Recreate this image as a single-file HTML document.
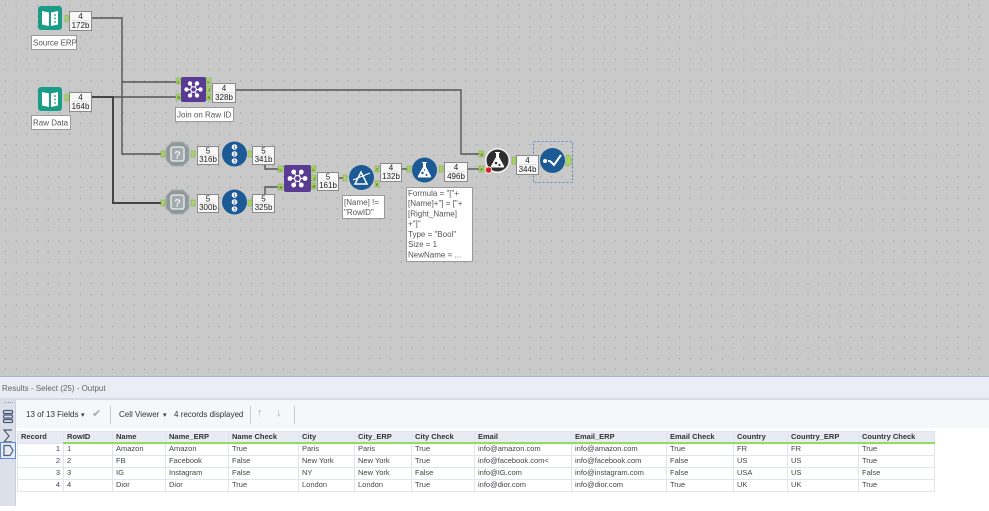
<!DOCTYPE html>
<html><head><meta charset="utf-8">
<style>
*{margin:0;padding:0;box-sizing:border-box}
body{width:989px;height:506px;overflow:hidden;background:#fff;font-family:"Liberation Sans",sans-serif;position:relative}
#canvas{position:absolute;left:0;top:0;width:989px;height:376px;background:#c9c9c9}
.abs{position:absolute}
#topline{left:0;top:376px;width:989px;height:1px;background:#9fb6d8}
#hdr{left:0;top:377px;width:989px;height:21px;background:#eaedf4;font-size:8px;color:#666;padding:7px 0 0 2px}
#hdrline{left:0;top:398px;width:989px;height:2px;background:#d6dbe6}
#side{left:0;top:400px;width:16px;height:106px;background:#dce0e9;border-right:1px solid #c9cfdc}
#tool{left:16px;top:400px;width:973px;height:28px;background:#f6f7fb}
.tt{position:absolute;top:410px;font-size:8px;color:#333;white-space:nowrap}
.sep{position:absolute;top:406px;width:1px;height:18px;background:#c8ccd6}
table{position:absolute;left:17px;top:431px;border-collapse:collapse;table-layout:fixed;font-size:7.5px;color:#444}
td,th{height:12px;border:1px solid #dfe4ee;padding:0 3px;white-space:nowrap;overflow:hidden;text-align:left;line-height:10px}
th{background:#e8ebf3;color:#333;font-weight:bold;border-bottom:2px solid #8fdf5c;height:11px}
th.r{border-bottom:1px solid #dfe4ee}
td.n{text-align:right}
</style></head><body>
<div id="canvas">
<svg width="989" height="376" xmlns="http://www.w3.org/2000/svg" font-family="Liberation Sans, sans-serif">
<defs>
<pattern id="g" x="0" y="0" width="10.7" height="10.7" patternUnits="userSpaceOnUse"><rect x="5" y="5" width="1" height="1" fill="#8e8e8e"/></pattern>
</defs>
<rect width="989" height="376" fill="url(#g)"/>
<!-- connectors -->
<g fill="none" stroke="#555" stroke-width="1.4">
<path d="M92,18 H122 V82 H176"/>
<path d="M122,82 V154 H161"/>
<path d="M92,97 H176"/>
<path d="M235,90 H461 V154 H479"/>
<path d="M265,164 V169 H278"/>
<path d="M265,194 V187 H278"/>
<path d="M339,178 H343"/>
<path d="M402,169 H407"/>
<path d="M468,169 H479"/>
</g>
<path d="M92,97 H113 V203 H161" fill="none" stroke="#444" stroke-width="2"/>
<!-- anchors -->
<g fill="#a9d36a" stroke="#7ea84a" stroke-width="0.5">
<path d="M65,15 h2 a2,3.5 0 0 1 0,7 h-2z"/>
<path d="M65,94 h2 a2,3.5 0 0 1 0,7 h-2z"/>
<rect x="176" y="78" width="5" height="6"/><rect x="176" y="94" width="5" height="6"/>
<rect x="206" y="78" width="5" height="6"/><rect x="206" y="86" width="5" height="6"/><rect x="206" y="94" width="5" height="6"/>
<rect x="161" y="151" width="4" height="6"/><rect x="191" y="151" width="4" height="6"/><rect x="248" y="151" width="4" height="6"/>
<rect x="161" y="200" width="4" height="6"/><rect x="191" y="200" width="4" height="6"/><rect x="248" y="200" width="4" height="6"/>
<rect x="278" y="166" width="5" height="6"/><rect x="278" y="184" width="5" height="6"/>
<rect x="311" y="166" width="5" height="6"/><rect x="311" y="175" width="5" height="6"/><rect x="311" y="183" width="5" height="6"/>
<rect x="343" y="175" width="4" height="6"/>
<rect x="375" y="166" width="4" height="6"/><rect x="375" y="181" width="4" height="6"/>
<rect x="407" y="166" width="4" height="6"/><rect x="439" y="166" width="4" height="6"/>
<rect x="479" y="151" width="5" height="6"/><rect x="479" y="166" width="5" height="6"/>
<rect x="512" y="157" width="4" height="7"/>
<path d="M566,155 h2 a4,5.5 0 0 1 0,11 h-2z"/>
</g>
<g font-size="3.5" fill="#3a5a1a" font-weight="bold">
<text x="177.5" y="83">L</text><text x="177.5" y="99">R</text>
<text x="207.5" y="83">L</text><text x="208" y="91">J</text><text x="207.5" y="99">R</text>
<text x="279.5" y="171">L</text><text x="279.5" y="189">R</text>
<text x="312.5" y="171">L</text><text x="313" y="180">J</text><text x="312.5" y="188">R</text>
<text x="376" y="171">T</text><text x="376" y="186">F</text>
<text x="480.5" y="156">D</text><text x="480.5" y="171">F</text>
</g>
<!-- input tools -->
<g>
<rect x="38" y="6" width="24" height="24" rx="3" fill="#1a9c89"/>
<path d="M42,11 L49,12.5 L49,26 L42,24.5Z M51,12.5 L58,11 L58,24.5 L51,26Z" fill="#fff"/>
<g fill="#1a9c89"><circle cx="55" cy="15" r="0.9"/><circle cx="55" cy="18.5" r="0.9"/><circle cx="55" cy="22" r="0.9"/></g>
<rect x="38" y="87" width="24" height="24" rx="3" fill="#1a9c89"/>
<path d="M42,92 L49,93.5 L49,107 L42,105.5Z M51,93.5 L58,92 L58,105.5 L51,107Z" fill="#fff"/>
<g fill="#1a9c89"><circle cx="55" cy="96" r="0.9"/><circle cx="55" cy="99.5" r="0.9"/><circle cx="55" cy="103" r="0.9"/></g>
</g>
<!-- join tools -->
<g>
<rect x="181" y="77" width="25" height="25" rx="2" fill="#5a3b94"/>
<g stroke="#fff" stroke-width="1"><path d="M193.5,89.5 l7,0 M193.5,89.5 l-7,0 M193.5,89.5 l3.5,6 M193.5,89.5 l-3.5,6 M193.5,89.5 l3.5,-6 M193.5,89.5 l-3.5,-6"/></g>
<g fill="#fff"><circle cx="200.5" cy="89.5" r="2.2"/><circle cx="186.5" cy="89.5" r="2.2"/><circle cx="197" cy="95.5" r="2.2"/><circle cx="190" cy="95.5" r="2.2"/><circle cx="197" cy="83.5" r="2.2"/><circle cx="190" cy="83.5" r="2.2"/></g>
<circle cx="193.5" cy="89.5" r="2.8" fill="#5a3b94" stroke="#fff" stroke-width="1.2"/>
<rect x="284" y="165" width="27" height="27" rx="2" fill="#5a3b94"/>
<g stroke="#fff" stroke-width="1"><path d="M297.5,178.5 l7.5,0 M297.5,178.5 l-7.5,0 M297.5,178.5 l3.8,6.5 M297.5,178.5 l-3.8,6.5 M297.5,178.5 l3.8,-6.5 M297.5,178.5 l-3.8,-6.5"/></g>
<g fill="#fff"><circle cx="305" cy="178.5" r="2.4"/><circle cx="290" cy="178.5" r="2.4"/><circle cx="301.3" cy="185" r="2.4"/><circle cx="293.7" cy="185" r="2.4"/><circle cx="301.3" cy="172" r="2.4"/><circle cx="293.7" cy="172" r="2.4"/></g>
<circle cx="297.5" cy="178.5" r="3" fill="#5a3b94" stroke="#fff" stroke-width="1.2"/>
</g>
<!-- ? tools -->
<g>
<path d="M172,142 h11 l6,6 v12 l-6,6 h-11 l-6,-6 v-12z" fill="#8e979a" stroke="#a7afb1"/>
<rect x="171" y="147" width="13" height="14" rx="2" fill="#a3abae" stroke="#eef0f0" stroke-width="1.3"/>
<text x="177.5" y="158.5" font-size="11" font-weight="bold" fill="#eef0f0" text-anchor="middle">?</text>
<path d="M172,190 h11 l6,6 v12 l-6,6 h-11 l-6,-6 v-12z" fill="#8e979a" stroke="#a7afb1"/>
<rect x="171" y="195" width="13" height="14" rx="2" fill="#a3abae" stroke="#eef0f0" stroke-width="1.3"/>
<text x="177.5" y="206.5" font-size="11" font-weight="bold" fill="#eef0f0" text-anchor="middle">?</text>
</g>
<!-- record id -->
<g>
<circle cx="234.5" cy="154" r="12.5" fill="#1c5a95"/>
<g fill="#fff"><circle cx="234.5" cy="147" r="2.8"/><circle cx="234.5" cy="154" r="2.8"/><circle cx="234.5" cy="161" r="2.8"/></g>
<g font-size="4.5" fill="#1c5a95" font-weight="bold" text-anchor="middle"><text x="234.5" y="148.6">1</text><text x="234.5" y="155.6">2</text><text x="234.5" y="162.6">3</text></g>
<circle cx="234.5" cy="202" r="12.5" fill="#1c5a95"/>
<g fill="#fff"><circle cx="234.5" cy="195" r="2.8"/><circle cx="234.5" cy="202" r="2.8"/><circle cx="234.5" cy="209" r="2.8"/></g>
<g font-size="4.5" fill="#1c5a95" font-weight="bold" text-anchor="middle"><text x="234.5" y="196.6">1</text><text x="234.5" y="203.6">2</text><text x="234.5" y="210.6">3</text></g>
</g>
<!-- filter -->
<circle cx="361.5" cy="177.5" r="12.5" fill="#1c5a95"/>
<path d="M355,184 L361,172 L367,184Z" fill="none" stroke="#fff" stroke-width="1.5"/>
<path d="M353,180 L370,173" stroke="#fff" stroke-width="1.2"/>
<!-- formula -->
<circle cx="424.5" cy="170" r="12.5" fill="#1c5a95"/>
<path d="M422,162 h5 v1 h-1 v4 l5,9 q0.5,1.5 -1,1.5 h-11 q-1.5,0 -1,-1.5 l5,-9 v-4 h-1z" fill="#fff"/>
<g fill="#1c5a95"><circle cx="422.5" cy="173" r="1.2"/><circle cx="426.5" cy="175" r="1"/><circle cx="424.5" cy="170" r="0.7"/></g>
<!-- dark tool -->
<circle cx="497.5" cy="160.5" r="12.5" fill="#f4f4f4"/>
<circle cx="497.5" cy="160.5" r="11" fill="#2f2f2f"/>
<path d="M495,152 h5 v1 h-1 v4 l5,9 q0.5,1.5 -1,1.5 h-11 q-1.5,0 -1,-1.5 l5,-9 v-4 h-1z" fill="#fff"/>
<g fill="#2f2f2f"><circle cx="496" cy="163" r="1.3"/><circle cx="499.5" cy="165" r="1.1"/></g>
<circle cx="488.5" cy="170" r="3.2" fill="#d42222" stroke="#fff" stroke-width="0.8"/>
<!-- browse/check -->
<circle cx="552.5" cy="160.5" r="12.5" fill="#1c5a95"/>
<circle cx="545" cy="161" r="2" fill="#fff"/>
<path d="M548,161 h2 M550,161 L554,165 L561,155" fill="none" stroke="#fff" stroke-width="2"/>
<rect x="533.5" y="141.5" width="39" height="41" fill="none" stroke="#3b78c6" stroke-width="0.8" stroke-dasharray="2,2"/>
<!-- count boxes -->
<g fill="#f7f7f7" stroke="#8a8a8a" stroke-width="1">
<rect x="69.5" y="11.5" width="22" height="19"/>
<rect x="69.5" y="92.5" width="22" height="19"/>
<rect x="212.5" y="83.5" width="23" height="19"/>
<rect x="197.5" y="146.5" width="21" height="18"/>
<rect x="252.5" y="146.5" width="22" height="18"/>
<rect x="197.5" y="194.5" width="21" height="18"/>
<rect x="252.5" y="194.5" width="22" height="18"/>
<rect x="317.5" y="172.5" width="21" height="18"/>
<rect x="380.5" y="163.5" width="21" height="18"/>
<rect x="444.5" y="162.5" width="23" height="19"/>
<rect x="516.5" y="155.5" width="22" height="19"/>
</g>
<g stroke="#d0d0d0" stroke-width="0.6">
<path d="M72,20.5 h17 M72,101.5 h17 M215,92.5 h18 M200,155 h16 M255,155 h17 M200,203 h16 M255,203 h17 M320,181 h16 M383,172 h16 M447,171.5 h18 M519,164.5 h17"/>
</g>
<g font-size="8" fill="#222" text-anchor="middle">
<text x="80.5" y="19">4</text><text x="80.5" y="28">172b</text>
<text x="80.5" y="100">4</text><text x="80.5" y="109">164b</text>
<text x="224" y="91">4</text><text x="224" y="100">328b</text>
<text x="208" y="153.5">5</text><text x="208" y="162">316b</text>
<text x="263.5" y="153.5">5</text><text x="263.5" y="162">341b</text>
<text x="208" y="201.5">5</text><text x="208" y="210">300b</text>
<text x="263.5" y="201.5">5</text><text x="263.5" y="210">325b</text>
<text x="328" y="179.5">5</text><text x="328" y="188">161b</text>
<text x="391" y="170.5">4</text><text x="391" y="179">132b</text>
<text x="456" y="170">4</text><text x="456" y="179">496b</text>
<text x="527.5" y="163">4</text><text x="527.5" y="172">344b</text>
</g>
<!-- labels -->
<g fill="#fff" stroke="#9a9a9a" stroke-width="1">
<rect x="31.5" y="35.5" width="45" height="14"/>
<rect x="31.5" y="115.5" width="39" height="14"/>
<rect x="175.5" y="107.5" width="58" height="14"/>
<rect x="342.5" y="195.5" width="42" height="23"/>
<rect x="406.5" y="187.5" width="66" height="74"/>
</g>
<g font-size="8" fill="#555">
<text x="33" y="45.5">Source ERP</text>
<text x="33" y="125.5">Raw Data</text>
<text x="177" y="117.5">Join on Raw ID</text>
<text x="344" y="205">[Name] !=</text>
<text x="344" y="215">"RowID"</text>
<text x="408" y="196">Formula = "["+</text>
<text x="408" y="206">[Name]+"] = ["+</text>
<text x="408" y="216.5">[Right_Name]</text>
<text x="408" y="226.5">+"]"</text>
<text x="408" y="237">Type = "Bool"</text>
<text x="408" y="247">Size = 1</text>
<text x="408" y="257.5">NewName = ...</text>
</g>
</svg>
</div>
<div id="topline" class="abs"></div>
<div id="hdr" class="abs">Results - Select (25) - Output</div>
<div id="hdrline" class="abs"></div>
<div id="side" class="abs">
<svg width="16" height="106" xmlns="http://www.w3.org/2000/svg">
<g fill="#8a96aa"><rect x="4" y="2" width="1" height="1"/><rect x="6" y="2" width="1" height="1"/><rect x="8" y="2" width="1" height="1"/><rect x="10" y="2" width="1" height="1"/><rect x="12" y="2" width="1" height="1"/></g>
<g fill="none" stroke="#4a5a78" stroke-width="1.2">
<rect x="3.5" y="10.5" width="9" height="3" rx="1"/><rect x="3.5" y="15" width="9" height="3" rx="1"/><rect x="3.5" y="19.5" width="9" height="3" rx="1"/>
<path d="M12,30 H4 L9,36 L4,42 H12"/>
</g>
<rect x="0.5" y="42.5" width="15" height="16" fill="#e7ebf3" stroke="#5b8bd0"/>
<path d="M4,45.5 H10 L13,50.5 L10,55.5 H4Z" fill="none" stroke="#4a5a78" stroke-width="1.2"/>
</svg>
</div>
<div id="tool" class="abs"></div>
<div class="tt" style="left:26px">13 of 13 Fields</div>
<div class="tt" style="left:81px;font-size:7px;top:411px">▾</div>
<div class="tt" style="left:92px;color:#aaa;font-size:11px;top:407px">✔</div>
<div class="sep" style="left:110px"></div>
<div class="tt" style="left:119px">Cell Viewer</div>
<div class="tt" style="left:163px;font-size:7px;top:411px">▾</div>
<div class="tt" style="left:174px">4 records displayed</div>
<div class="sep" style="left:250px"></div>
<div class="tt" style="left:257px;color:#aab;font-size:11px;top:407px">↑</div>
<div class="tt" style="left:276px;color:#aab;font-size:11px;top:407px">↓</div>
<div class="sep" style="left:294px"></div>
<table>
<colgroup><col style="width:46px"><col style="width:49px"><col style="width:53px"><col style="width:63px"><col style="width:70px"><col style="width:56px"><col style="width:57px"><col style="width:63px"><col style="width:97px"><col style="width:95px"><col style="width:67px"><col style="width:54px"><col style="width:71px"><col style="width:76px"></colgroup>
<tr><th class="r">Record</th><th>RowID</th><th>Name</th><th>Name_ERP</th><th>Name Check</th><th>City</th><th>City_ERP</th><th>City Check</th><th>Email</th><th>Email_ERP</th><th>Email Check</th><th>Country</th><th>Country_ERP</th><th>Country Check</th></tr>
<tr><td class="n">1</td><td>1</td><td>Amazon</td><td>Amazon</td><td>True</td><td>Paris</td><td>Paris</td><td>True</td><td>info@amazon.com</td><td>info@amazon.com</td><td>True</td><td>FR</td><td>FR</td><td>True</td></tr>
<tr><td class="n">2</td><td>2</td><td>FB</td><td>Facebook</td><td>False</td><td>New York</td><td>New York</td><td>True</td><td>info@facebook.com&lt;</td><td>info@facebook.com</td><td>False</td><td>US</td><td>US</td><td>True</td></tr>
<tr><td class="n">3</td><td>3</td><td>IG</td><td>Instagram</td><td>False</td><td>NY</td><td>New York</td><td>False</td><td>info@IG.com</td><td>info@instagram.com</td><td>False</td><td>USA</td><td>US</td><td>False</td></tr>
<tr><td class="n">4</td><td>4</td><td>Dior</td><td>Dior</td><td>True</td><td>London</td><td>London</td><td>True</td><td>info@dior.com</td><td>info@dior.com</td><td>True</td><td>UK</td><td>UK</td><td>True</td></tr>
</table>
</body></html>
